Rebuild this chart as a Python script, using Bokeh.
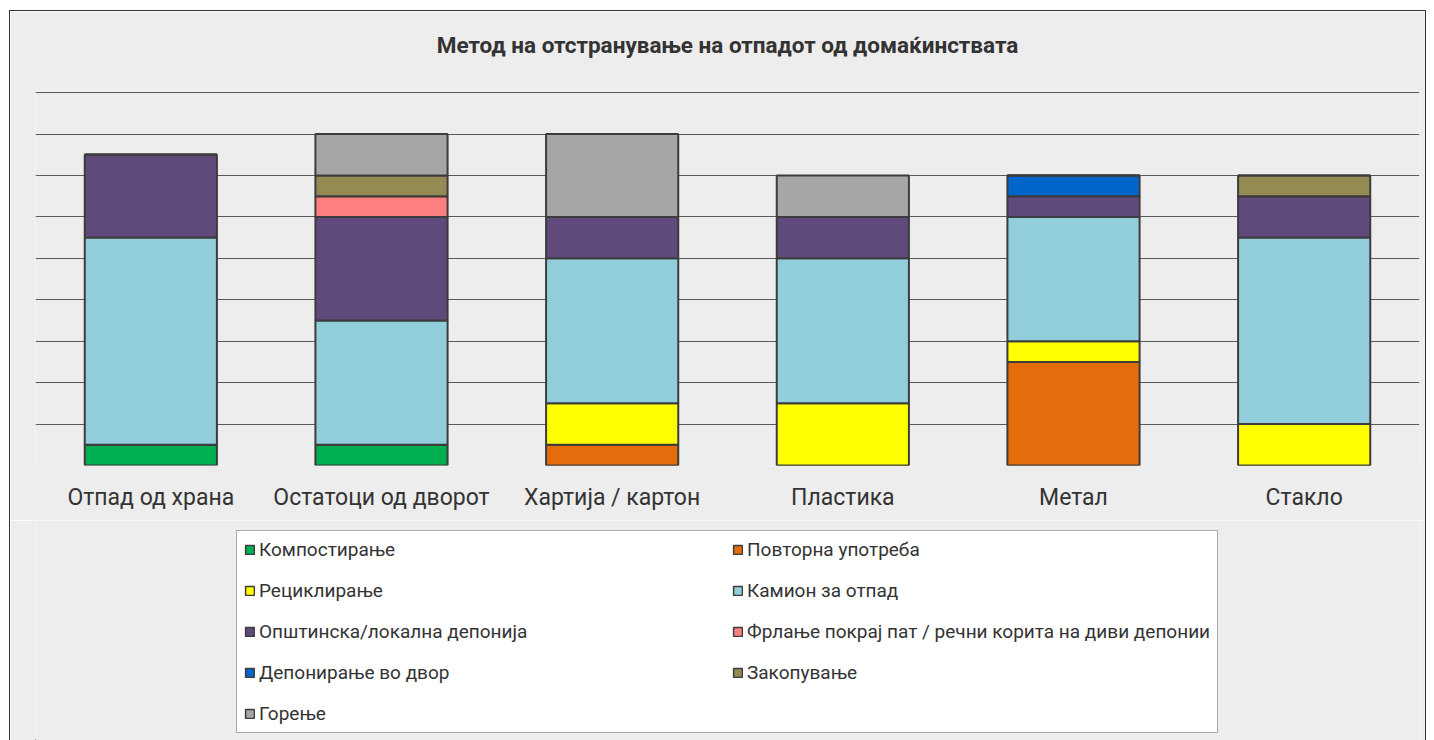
from bokeh.plotting import figure
from bokeh.layouts import column
from bokeh.models import ColumnDataSource, Legend, LegendItem, FixedTicker, Title
from bokeh.embed import file_html
from bokeh.resources import INLINE

categories = ["Отпад од храна", "Остатоци од дворот", "Хартија / картон", "Пластика", "Метал", "Стакло"]

series_names = [
    "Компостирање",
    "Повторна употреба",
    "Рециклирање",
    "Камион за отпад",
    "Општинска/локална депонија",
    "Фрлање покрај пат / речни корита на диви депонии",
    "Депонирање во двор",
    "Закопување",
    "Горење",
]

kompostiranje = [0.5, 0.5, 0, 0, 0, 0]
povtorna = [0, 0, 0.5, 0, 2.5, 0]
reciklirane = [0, 0, 1, 1.5, 0.5, 1]
kamion = [5, 3, 3.5, 3.5, 3, 4.5]
opstinska = [2, 2.5, 1, 1, 0.5, 1]
frlane = [0, 0.5, 0, 0, 0, 0]
deponirane = [0, 0, 0, 0, 0.5, 0]
zakopuvane = [0, 0.5, 0, 0, 0, 0.5]
gorene = [0, 1, 2, 1, 0, 0]

colors = ["#00b050", "#e46c0a", "#ffff00", "#92cddc", "#604a7b",
          "#ff7f7f", "#0066cc", "#948a54", "#a6a6a6"]

BG = "#ededed"
BORDER = "1px solid #333333"

keys = ["s%d" % i for i in range(9)]
data = {"cat": categories}
for k, v in zip(keys, [kompostiranje, povtorna, reciklirane, kamion, opstinska,
                       frlane, deponirane, zakopuvane, gorene]):
    data[k] = v
source = ColumnDataSource(data)

p = figure(x_range=categories, y_range=(0, 9.05), width=1417, height=510,
           output_backend="svg", toolbar_location=None,
           min_border_left=25, min_border_right=8, min_border_top=79, min_border_bottom=56,
           background_fill_color=BG, border_fill_color=BG,
           title="Метод на отстранување на отпадот од домаќинствата")
p.styles = {"border-left": BORDER, "border-top": BORDER, "border-right": BORDER}
p.outline_line_color = None

renderers = p.vbar_stack(keys, x="cat", width=0.573, source=source, color=colors,
                         line_color="#3c3c3c", line_width=2)

p.title.align = "center"
p.title.vertical_align = "bottom"
p.title.text_font = "Roboto"
p.title.text_font_size = "22.5px"
p.title.text_font_style = "bold"
p.title.text_color = "#333333"
p.title.standoff = 0

# blank spacer between the title and the plot area, lifting the title up
spacer = Title(text=" ", text_font_size="10px", standoff=20)
p.add_layout(spacer, "above")

p.yaxis.visible = False
p.yaxis.ticker = FixedTicker(ticks=list(range(0, 10)))
p.ygrid.grid_line_color = "#5a5a5a"
p.ygrid.grid_line_width = 1
p.xgrid.grid_line_color = None

p.xaxis.axis_line_color = None
p.xaxis.major_tick_line_color = None
p.xaxis.minor_tick_line_color = None
p.xaxis.major_label_text_font = "Roboto"
p.xaxis.major_label_text_font_size = "23px"
p.xaxis.major_label_text_color = "#333333"
p.xaxis.major_label_standoff = 12

# Legend panel (separate figure so the legend is not clipped by the bar frame)
p2 = figure(width=1417, height=220, x_range=(0, 1), y_range=(0, 1),
            output_backend="svg", toolbar_location=None,
            min_border=0, background_fill_color=BG, border_fill_color=BG)
p2.styles = {"border-left": BORDER, "border-right": BORDER}
p2.outline_line_color = None
p2.axis.visible = False
p2.grid.visible = False

# proxy glyphs (kept outside the visible range) used only as legend swatches
legend_renderers = []
for c in colors:
    r = p2.vbar(x=[-10], top=[-10], width=0.5, fill_color=c, line_color="#3c3c3c", line_width=1.5)
    legend_renderers.append(r)

order = [0, 2, 4, 6, 8, 1, 3, 5, 7]  # row-major reading order in a 2-column legend
items = [LegendItem(label=series_names[i], renderers=[legend_renderers[i]]) for i in order]
legend = Legend(items=items, ncols=2, location=(201, 7),
                background_fill_color="white", background_fill_alpha=1.0,
                border_line_color="#555555", border_line_width=1,
                label_text_font="Roboto", label_text_font_size="19px",
                label_text_color="#333333",
                glyph_width=11, glyph_height=11, label_height=21, label_width=455,
                label_standoff=4, spacing=18, padding=7, margin=0)
p2.add_layout(legend, "center")

layout = column(p, p2, spacing=0)
layout.margin = (10, 8, 0, 9)

open("out.html", "w").write(file_html(layout, INLINE))
